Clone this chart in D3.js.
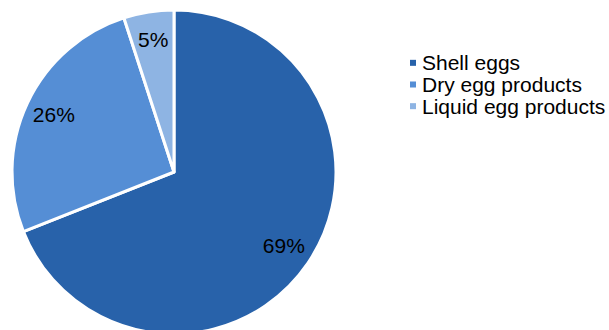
<!DOCTYPE html>
<html>
<head>
<meta charset="utf-8">
<script src="https://cdn.jsdelivr.net/npm/d3@7"></script>
<style>
body { margin: 0; background: #fff; }
text { font-family: "Liberation Sans", Arial, sans-serif; }
</style>
</head>
<body>
<script>
var categories = ['Shell eggs', 'Dry egg products', 'Liquid egg products']
var values = [69, 26, 5]
var labels = ['69%', '26%', '5%']
var colors = ['#2862AA', '#558ED5', '#8EB4E3']

var svg = d3.select('body').append('svg')
  .attr('width', 609)
  .attr('height', 330)

var cx = 174, cy = 172, r = 162

var pie = d3.pie().sort(null).value(function(d){ return d })
var arcs = pie(values)

var arc = d3.arc().innerRadius(0).outerRadius(r)
var labelArc = d3.arc().innerRadius(r * 0.82).outerRadius(r * 0.82)

var g = svg.append('g').attr('transform', 'translate(' + cx + ',' + cy + ')')

g.selectAll('path')
  .data(arcs)
  .enter().append('path')
  .attr('d', arc)
  .attr('fill', function(d, i){ return colors[i] })
  .attr('stroke', '#fff')
  .attr('stroke-width', 3)
  .attr('stroke-linejoin', 'round')

g.selectAll('text')
  .data(arcs)
  .enter().append('text')
  .attr('transform', function(d){ return 'translate(' + labelArc.centroid(d) + ')' })
  .attr('text-anchor', 'middle')
  .attr('dy', '0.3em')
  .attr('font-size', 21)
  .attr('fill', '#000')
  .text(function(d, i){ return labels[i] })

var legend = svg.append('g')

var y = d3.scaleBand().domain(categories).range([52, 117])

var item = legend.selectAll('g')
  .data(categories)
  .enter().append('g')
  .attr('transform', function(d){ return 'translate(0,' + (y(d) + y.bandwidth() / 2) + ')' })

item.append('rect')
  .attr('x', 410)
  .attr('y', -3)
  .attr('width', 6)
  .attr('height', 6)
  .attr('fill', function(d, i){ return colors[i] })

item.append('text')
  .attr('x', 422)
  .attr('dy', '0.36em')
  .attr('font-size', 21)
  .attr('fill', '#000')
  .text(function(d){ return d })
</script>
</body>
</html>
